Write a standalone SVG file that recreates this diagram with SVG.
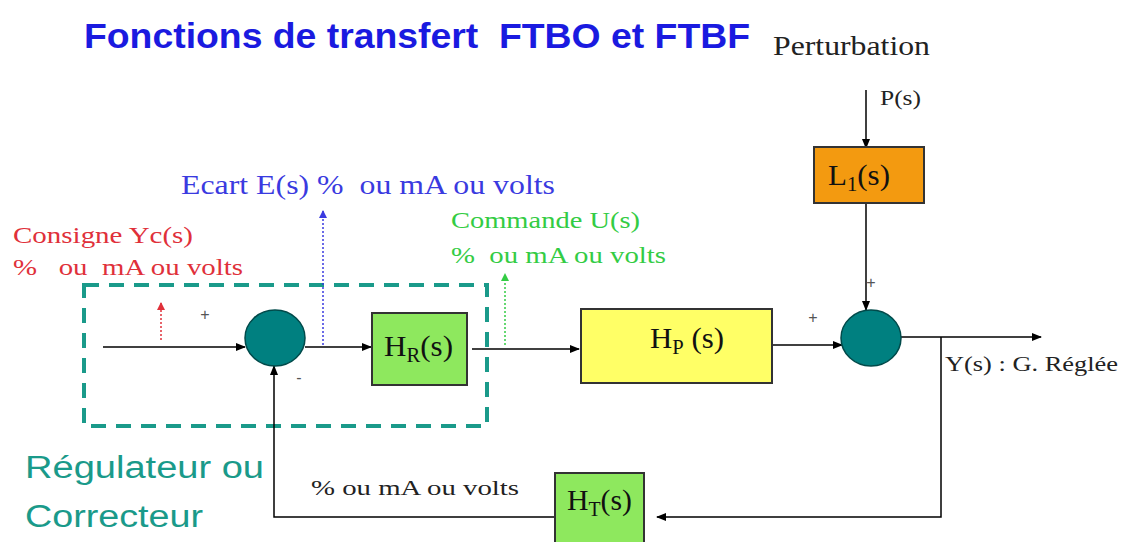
<svg xmlns="http://www.w3.org/2000/svg" width="1124" height="542" viewBox="0 0 1124 542">
<defs>
<marker id="ah" markerWidth="10" markerHeight="8" refX="9" refY="4" orient="auto" markerUnits="userSpaceOnUse"><path d="M0,0 L10,4 L0,8 z" fill="#000"/></marker>
<marker id="ahr" markerWidth="8" markerHeight="8" refX="7" refY="4" orient="auto" markerUnits="userSpaceOnUse"><path d="M0,0 L8,4 L0,8 z" fill="#e0303a"/></marker>
<marker id="ahb" markerWidth="8" markerHeight="8" refX="7" refY="4" orient="auto" markerUnits="userSpaceOnUse"><path d="M0,0 L8,4 L0,8 z" fill="#3a3ae0"/></marker>
<marker id="ahg" markerWidth="8" markerHeight="8" refX="7" refY="4" orient="auto" markerUnits="userSpaceOnUse"><path d="M0,0 L8,4 L0,8 z" fill="#33cc44"/></marker>
<style>
.serif{font-family:"Liberation Serif","DejaVu Serif",serif}
.sans{font-family:"Liberation Sans",Arial,sans-serif}
.box{stroke:#333;stroke-width:2}
.line{stroke:#000;stroke-width:1.5;fill:none}
.sum{fill:#008080;stroke:#004a4a;stroke-width:1.5}
.blk{font-size:30px;fill:#111}
</style>
</defs>
<rect width="1124" height="542" fill="#fff"/>
<text x="84" y="48" class="sans" font-size="35" font-weight="bold" fill="#1a1ae0" textLength="666" lengthAdjust="spacingAndGlyphs" xml:space="preserve">Fonctions de transfert  FTBO et FTBF</text>
<text x="773" y="55" class="serif" font-size="27" fill="#222" textLength="157" lengthAdjust="spacingAndGlyphs">Perturbation</text>
<text x="880" y="105" class="serif" font-size="21" fill="#222" textLength="41" lengthAdjust="spacingAndGlyphs">P(s)</text>
<text x="181" y="194" class="serif" font-size="27" fill="#3a3ae0" textLength="374" lengthAdjust="spacingAndGlyphs" xml:space="preserve">Ecart E(s) %  ou mA ou volts</text>
<text x="13" y="243" class="serif" font-size="23" fill="#e0303a" textLength="180" lengthAdjust="spacingAndGlyphs">Consigne Yc(s)</text>
<text x="13" y="275" class="serif" font-size="23" fill="#e0303a" textLength="230" lengthAdjust="spacingAndGlyphs" xml:space="preserve">%   ou  mA ou volts</text>
<text x="451" y="228" class="serif" font-size="23" fill="#33cc44" textLength="189" lengthAdjust="spacingAndGlyphs">Commande U(s)</text>
<text x="451" y="263" class="serif" font-size="23" fill="#33cc44" textLength="215" lengthAdjust="spacingAndGlyphs" xml:space="preserve">%  ou mA ou volts</text>
<text x="945" y="371" class="serif" font-size="21" fill="#222" textLength="173" lengthAdjust="spacingAndGlyphs">Y(s) : G. Réglée</text>
<text x="311" y="495" class="serif" font-size="21" fill="#222" textLength="208" lengthAdjust="spacingAndGlyphs">% ou mA ou volts</text>
<text x="25" y="478" class="sans" font-size="31" fill="#1a9a8a" textLength="239" lengthAdjust="spacingAndGlyphs">Régulateur ou</text>
<text x="25" y="527" class="sans" font-size="31" fill="#1a9a8a" textLength="178" lengthAdjust="spacingAndGlyphs">Correcteur</text>
<rect x="84" y="285" width="403" height="141" fill="none" stroke="#1a9a8a" stroke-width="4" stroke-dasharray="15 10"/>
<g id="connectors">
<line x1="103" y1="347" x2="245" y2="347" class="line" marker-end="url(#ah)"/>
<line x1="305" y1="347" x2="371" y2="347" class="line" marker-end="url(#ah)"/>
<line x1="472" y1="349" x2="579" y2="349" class="line" marker-end="url(#ah)"/>
<line x1="772" y1="345" x2="842" y2="345" class="line" marker-end="url(#ah)"/>
<line x1="866" y1="90" x2="866" y2="148" class="line" marker-end="url(#ah)"/>
<line x1="866" y1="203" x2="866" y2="310" class="line" marker-end="url(#ah)"/>
<line x1="901" y1="337" x2="1041" y2="337" class="line" marker-end="url(#ah)"/>
<polyline points="941,337 941,517 657,517" class="line" marker-end="url(#ah)"/>
<polyline points="555,517 274,517 274,366" class="line" marker-end="url(#ah)"/>
<line x1="161" y1="340" x2="161" y2="303" stroke="#e0303a" stroke-width="1.5" stroke-dasharray="2 2" marker-end="url(#ahr)"/>
<line x1="323" y1="345" x2="323" y2="211" stroke="#3a3ae0" stroke-width="1.5" stroke-dasharray="2 2" marker-end="url(#ahb)"/>
<line x1="505" y1="345" x2="505" y2="274" stroke="#33cc44" stroke-width="1.5" stroke-dasharray="2 2" marker-end="url(#ahg)"/>
<text x="205" y="320" class="sans" font-size="16" fill="#555" text-anchor="middle">+</text>
<text x="299" y="383" class="sans" font-size="16" fill="#555" text-anchor="middle">-</text>
<text x="813" y="323" class="sans" font-size="16" fill="#555" text-anchor="middle">+</text>
<text x="871" y="288" class="sans" font-size="16" fill="#555" text-anchor="middle">+</text>
</g>
<g id="sum1"><ellipse cx="275" cy="338" rx="30" ry="28" class="sum"/></g>
<g id="sum2"><ellipse cx="871" cy="338" rx="30" ry="28" class="sum"/></g>
<g id="HR"><rect x="372" y="313" width="95" height="72" fill="#8ee85e" class="box"/><text x="384" y="356" class="serif blk" textLength="69" lengthAdjust="spacingAndGlyphs">H<tspan font-size="20" dy="6">R</tspan><tspan dy="-6">(s)</tspan></text></g>
<g id="HP"><rect x="581" y="309" width="191" height="74" fill="#ffff66" class="box"/><text x="650" y="348" class="serif blk" textLength="74" lengthAdjust="spacingAndGlyphs" xml:space="preserve">H<tspan font-size="20" dy="6">P</tspan><tspan dy="-6"> (s)</tspan></text></g>
<g id="L1"><rect x="814" y="147" width="110" height="56" fill="#f39a10" class="box"/><text x="828" y="185" class="serif blk" textLength="62" lengthAdjust="spacingAndGlyphs">L<tspan font-size="20" dy="6">1</tspan><tspan dy="-6">(s)</tspan></text></g>
<g id="HT"><rect x="555" y="473" width="89" height="72" fill="#8ee85e" class="box"/><text x="567" y="510" class="serif blk" textLength="65" lengthAdjust="spacingAndGlyphs">H<tspan font-size="20" dy="6">T</tspan><tspan dy="-6">(s)</tspan></text></g>
</svg>
